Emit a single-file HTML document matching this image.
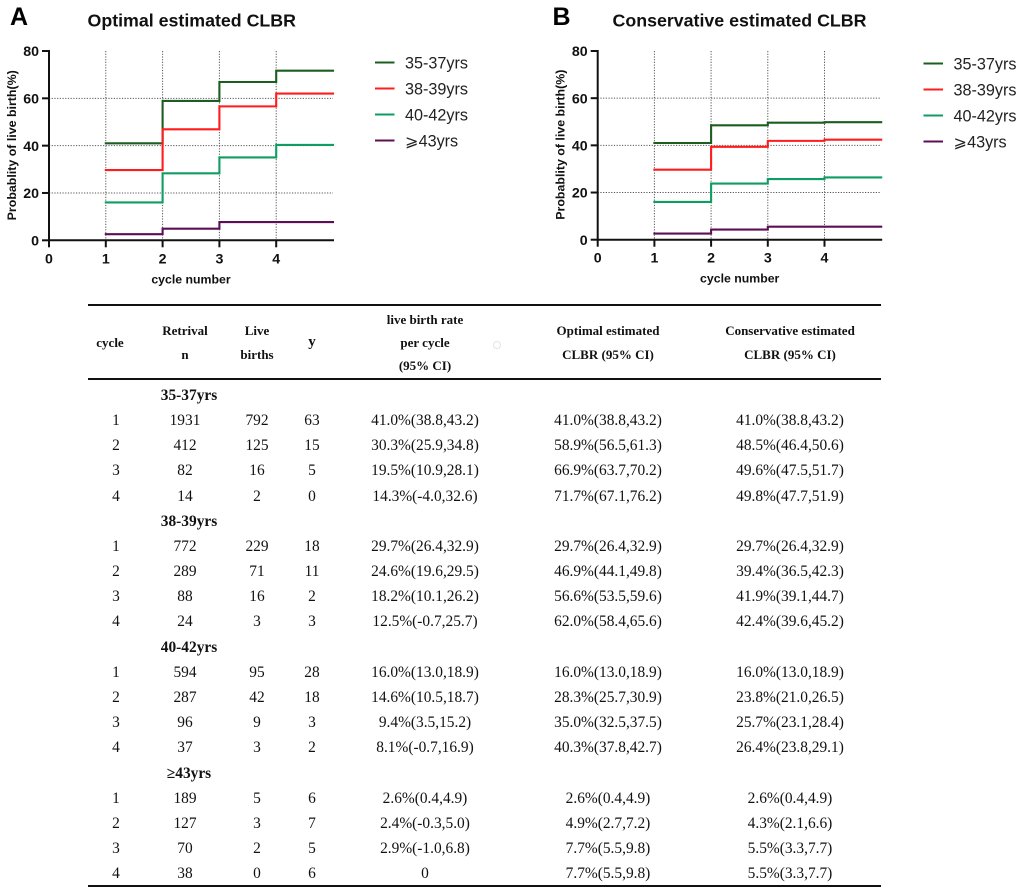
<!DOCTYPE html>
<html lang="en">
<head>
<meta charset="utf-8">
<title>CLBR charts and table</title>
<style>
html,body{margin:0;padding:0;background:#fff;}
body{width:1020px;height:892px;position:relative;overflow:hidden;font-family:"Liberation Serif",serif;color:#111;}
svg{position:absolute;left:0;top:0;}
svg text{font-family:"Liberation Sans",sans-serif;}
#sheet{position:absolute;left:0;top:0;width:1020px;height:892px;filter:blur(0.35px);}
.rule{position:absolute;left:88px;width:793px;height:2px;background:#111;}
#tbl{position:absolute;left:88px;top:306px;width:793px;}
.r{display:grid;grid-template-columns:56px 82px 62px 48px 178px 188px 176px 3px;height:25.2px;align-items:center;text-align:center;font-size:15.4px;line-height:23.2px;white-space:nowrap;}
.h{height:73px;font-size:13px;font-weight:bold;}
.s{font-weight:bold;font-size:15.4px;}
.s span:nth-child(2){position:relative;left:4px;}
.h span:first-child{position:relative;left:-6px;}
.ring{position:absolute;left:493px;top:341px;width:6px;height:6px;border:1px solid #e4e4e4;border-radius:50%;}
</style>
</head>
<body>
<div id="sheet">
<svg id="chart-svg" width="1020" height="300" viewBox="0 0 1020 300"></svg>

<div class="rule" style="top:304px"></div>
<div class="rule" style="top:378px"></div>
<div class="rule" style="top:885px"></div>
<div class="ring"></div>

<div id="tbl">
<div class="r h"><span>cycle</span><span>Retrival<br>n</span><span>Live<br>births</span><span style="font-size:15px">y</span><span>live birth rate<br>per cycle<br>(95% CI)</span><span>Optimal estimated<br>CLBR (95% CI)</span><span>Conservative estimated<br>CLBR (95% CI)</span></div>
<div style="height:3.8px"></div>
<div class="r s"><span></span><span>35-37yrs</span></div>
<div class="r"><span>1</span><span>1931</span><span>792</span><span>63</span><span>41.0%(38.8,43.2)</span><span>41.0%(38.8,43.2)</span><span>41.0%(38.8,43.2)</span></div>
<div class="r"><span>2</span><span>412</span><span>125</span><span>15</span><span>30.3%(25.9,34.8)</span><span>58.9%(56.5,61.3)</span><span>48.5%(46.4,50.6)</span></div>
<div class="r"><span>3</span><span>82</span><span>16</span><span>5</span><span>19.5%(10.9,28.1)</span><span>66.9%(63.7,70.2)</span><span>49.6%(47.5,51.7)</span></div>
<div class="r"><span>4</span><span>14</span><span>2</span><span>0</span><span>14.3%(-4.0,32.6)</span><span>71.7%(67.1,76.2)</span><span>49.8%(47.7,51.9)</span></div>
<div class="r s"><span></span><span>38-39yrs</span></div>
<div class="r"><span>1</span><span>772</span><span>229</span><span>18</span><span>29.7%(26.4,32.9)</span><span>29.7%(26.4,32.9)</span><span>29.7%(26.4,32.9)</span></div>
<div class="r"><span>2</span><span>289</span><span>71</span><span>11</span><span>24.6%(19.6,29.5)</span><span>46.9%(44.1,49.8)</span><span>39.4%(36.5,42.3)</span></div>
<div class="r"><span>3</span><span>88</span><span>16</span><span>2</span><span>18.2%(10.1,26.2)</span><span>56.6%(53.5,59.6)</span><span>41.9%(39.1,44.7)</span></div>
<div class="r"><span>4</span><span>24</span><span>3</span><span>3</span><span>12.5%(-0.7,25.7)</span><span>62.0%(58.4,65.6)</span><span>42.4%(39.6,45.2)</span></div>
<div class="r s"><span></span><span>40-42yrs</span></div>
<div class="r"><span>1</span><span>594</span><span>95</span><span>28</span><span>16.0%(13.0,18.9)</span><span>16.0%(13.0,18.9)</span><span>16.0%(13.0,18.9)</span></div>
<div class="r"><span>2</span><span>287</span><span>42</span><span>18</span><span>14.6%(10.5,18.7)</span><span>28.3%(25.7,30.9)</span><span>23.8%(21.0,26.5)</span></div>
<div class="r"><span>3</span><span>96</span><span>9</span><span>3</span><span>9.4%(3.5,15.2)</span><span>35.0%(32.5,37.5)</span><span>25.7%(23.1,28.4)</span></div>
<div class="r"><span>4</span><span>37</span><span>3</span><span>2</span><span>8.1%(-0.7,16.9)</span><span>40.3%(37.8,42.7)</span><span>26.4%(23.8,29.1)</span></div>
<div class="r s"><span></span><span>≥43yrs</span></div>
<div class="r"><span>1</span><span>189</span><span>5</span><span>6</span><span>2.6%(0.4,4.9)</span><span>2.6%(0.4,4.9)</span><span>2.6%(0.4,4.9)</span></div>
<div class="r"><span>2</span><span>127</span><span>3</span><span>7</span><span>2.4%(-0.3,5.0)</span><span>4.9%(2.7,7.2)</span><span>4.3%(2.1,6.6)</span></div>
<div class="r"><span>3</span><span>70</span><span>2</span><span>5</span><span>2.9%(-1.0,6.8)</span><span>7.7%(5.5,9.8)</span><span>5.5%(3.3,7.7)</span></div>
<div class="r"><span>4</span><span>38</span><span>0</span><span>6</span><span>0</span><span>7.7%(5.5,9.8)</span><span>5.5%(3.3,7.7)</span></div>
</div>
</div>

<script>
const seriesLabels = ['35-37yrs', '38-39yrs', '40-42yrs', '⩾43yrs'];
const cycles = [1, 2, 3, 4];
const xTicks = [0, 1, 2, 3, 4];
const yTicks = [0, 20, 40, 60, 80];
const yGrid = [20, 40, 60];
const optimal3537 = [41.0, 58.9, 66.9, 71.7];
const optimal3839 = [29.7, 46.9, 56.6, 62.0];
const optimal4042 = [16.0, 28.3, 35.0, 40.3];
const optimal43 = [2.6, 4.9, 7.7, 7.7];
const conservative3537 = [41.0, 48.5, 49.6, 49.8];
const conservative3839 = [29.7, 39.4, 41.9, 42.4];
const conservative4042 = [16.0, 23.8, 25.7, 26.4];
const conservative43 = [2.6, 4.3, 5.5, 5.5];

const colors = ['#1b5e20', '#ff1c1c', '#0f9d63', '#5c0f55'];
const NS = 'http://www.w3.org/2000/svg';
const root = document.getElementById('chart-svg');

function mk(tag, attrs, txt) {
  const el = document.createElementNS(NS, tag);
  for (const k in attrs) el.setAttribute(k, attrs[k]);
  if (txt !== undefined) el.textContent = txt;
  root.appendChild(el);
  return el;
}

function drawChart(cfg) {
  const xs = v => cfg.x0 + v * cfg.xUnit;
  const ys = v => cfg.y0 - v * (cfg.y0 - cfg.y80) / 80;
  const xEnd = xs(5);

  const letter = mk('text', {x: cfg.letterX, y: 25, 'font-size': 25, 'font-weight': 'bold', fill: '#000'}, cfg.letter);
  
  

  const title = mk('text', {x: cfg.titleX, y: 26.5, 'font-size': 17.8, 'font-weight': 'bold', fill: '#111'}, cfg.title);
  
  

  yGrid.forEach(v => {
    const g = mk('line', {x1: cfg.x0, x2: xEnd, y1: ys(v), y2: ys(v), stroke: '#555', 'stroke-width': 1, 'stroke-dasharray': '1.2 1.5'});
    
    
  });
  cycles.forEach(v => {
    const g = mk('line', {x1: xs(v), x2: xs(v), y1: ys(80), y2: ys(0), stroke: '#555', 'stroke-width': 1, 'stroke-dasharray': '1.2 1.5'});
    
    
  });

  cfg.series.forEach((vals, i) => {
    let d = '';
    vals.forEach((v, j) => {
      d += (j === 0 ? 'M' : 'V' + ys(v).toFixed(2) + 'M') + xs(cycles[j]).toFixed(2) + ' ' + ys(v).toFixed(2);
      d += 'H' + (j < vals.length - 1 ? xs(cycles[j + 1]) : xEnd).toFixed(2);
      if (j < vals.length - 1) d += 'M' + xs(cycles[j + 1]).toFixed(2) + ' ' + ys(v).toFixed(2);
    });
    const p = mk('path', {d: d, fill: 'none', stroke: colors[i], 'stroke-width': 2.1, 'stroke-linecap': 'square'});
    
    
  });

  const ax = mk('path', {d: 'M' + cfg.x0 + ' ' + ys(80) + 'V' + ys(0) + 'M' + cfg.x0 + ' ' + ys(0) + 'H' + xEnd, fill: 'none', stroke: '#111', 'stroke-width': 2, 'stroke-linecap': 'square'});
  
  

  yTicks.forEach(v => {
    const t = mk('line', {x1: cfg.x0 - 7, x2: cfg.x0, y1: ys(v), y2: ys(v), stroke: '#111', 'stroke-width': 2});
    
    
    const l = mk('text', {x: cfg.x0 - 10, y: ys(v) + 5.2, 'text-anchor': 'end', 'font-size': 14.2, 'font-weight': 'bold', fill: '#111'}, v);
    
    
  });
  xTicks.forEach(v => {
    const t = mk('line', {x1: xs(v), x2: xs(v), y1: ys(0), y2: ys(0) + 7, stroke: '#111', 'stroke-width': 2});
    
    
    const l = mk('text', {x: xs(v), y: ys(0) + 23, 'text-anchor': 'middle', 'font-size': 14.2, 'font-weight': 'bold', fill: '#111'}, v);
    
    
  });

  const xt = mk('text', {x: cfg.x0 + 142, y: ys(0) + 43, 'text-anchor': 'middle', 'font-size': 12.3, 'font-weight': 'bold', fill: '#111'}, 'cycle number');
  
  

  const yt = mk('text', {transform: 'translate(' + (cfg.x0 - 33) + ' ' + (ys(0) - 95) + ') rotate(-90)', 'text-anchor': 'middle', 'font-size': 12.4, 'font-weight': 'bold', fill: '#111'}, 'Probablity of live birth(%)');
  
  

  seriesLabels.forEach((lab, i) => {
    const y = cfg.legendY + i * 26;
    const s = mk('line', {x1: cfg.legendX, x2: cfg.legendX + 19.5, y1: y, y2: y, stroke: colors[i], 'stroke-width': 2});
    
    
    const t = mk('text', {x: cfg.legendX + 30, y: y + 6, 'font-size': 16.2, fill: '#222'}, lab);
    
    
  });
}

drawChart({
  letter: 'A', letterX: 10, title: 'Optimal estimated CLBR', titleX: 87.5,
  x0: 49, xUnit: 56.8, y0: 240.3, y80: 51, legendX: 375, legendY: 62.5,
  series: [optimal3537, optimal3839, optimal4042, optimal43]
});
drawChart({
  letter: 'B', letterX: 552.5, title: 'Conservative estimated CLBR', titleX: 612.5,
  x0: 597.7, xUnit: 56.7, y0: 239.7, y80: 51, legendX: 923.5, legendY: 63.5,
  series: [conservative3537, conservative3839, conservative4042, conservative43]
});
</script>
</body>
</html>
